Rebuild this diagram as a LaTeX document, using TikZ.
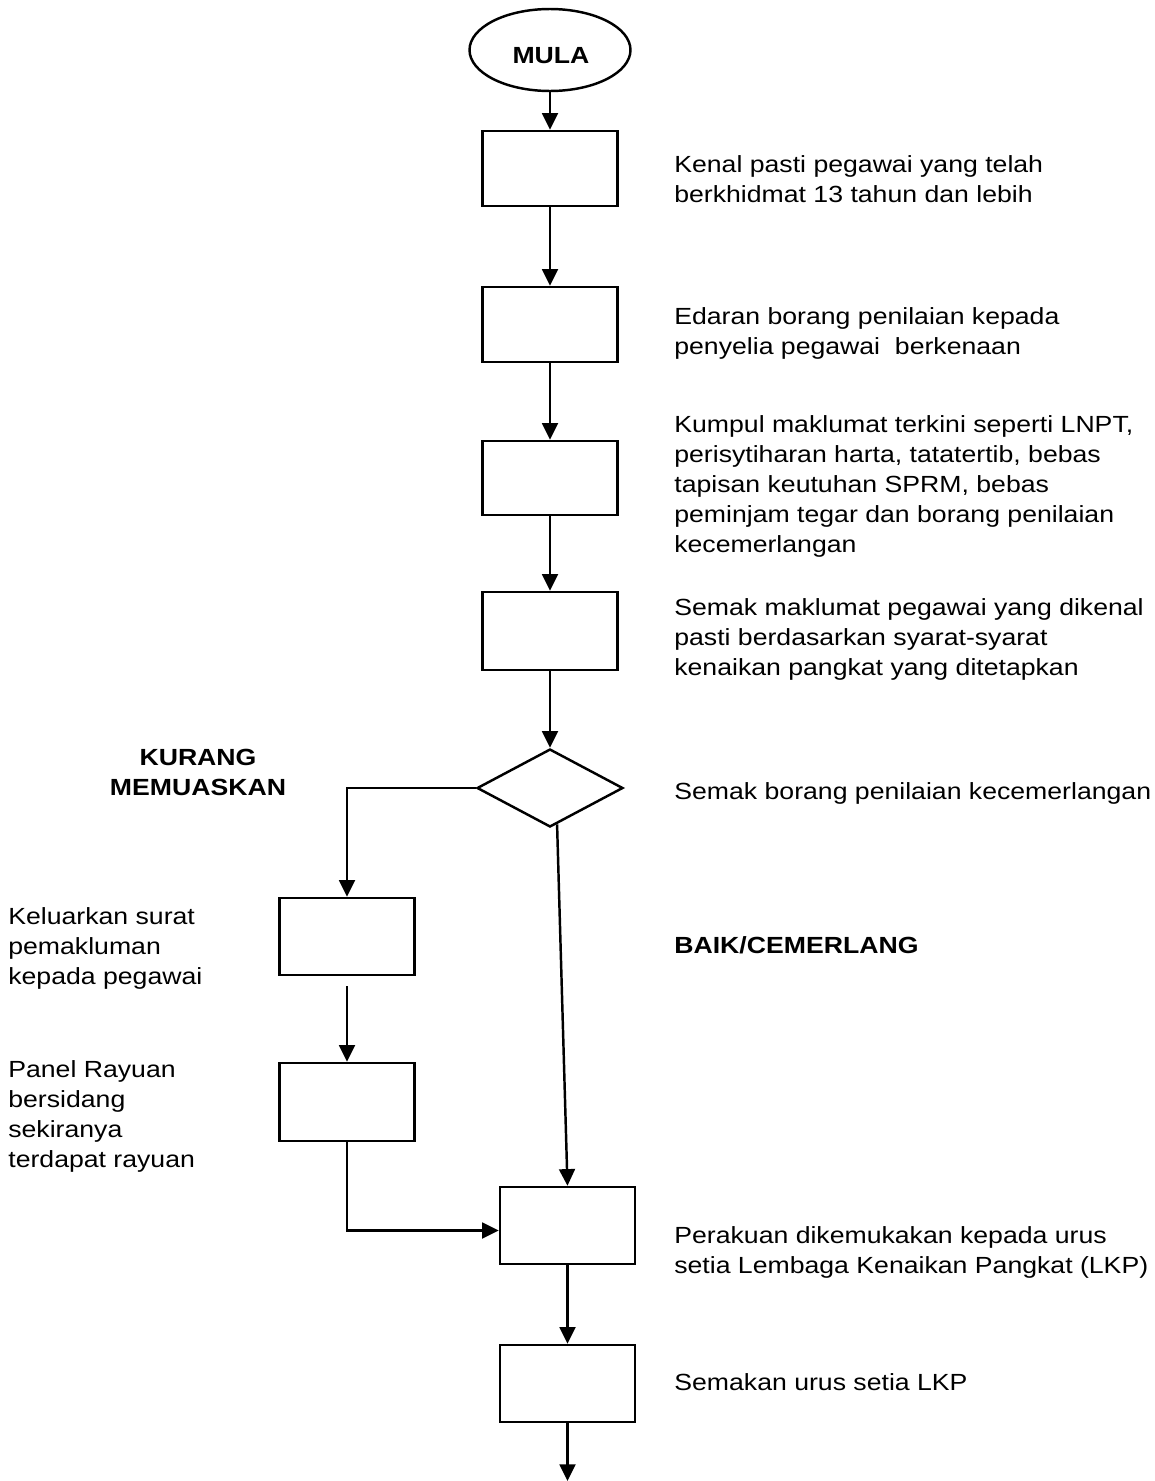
\documentclass[tikz,border=0pt]{standalone}
\usepackage{fontspec}
\setmainfont{Liberation Sans}[FakeStretch=1.14]
\usetikzlibrary{arrows.meta,shapes.geometric}
\begin{document}
\begin{tikzpicture}[x=0.02cm,y=-0.02cm,
  every node/.style={font=\fontsize{13.3pt}{17pt}\selectfont},
  procbox/.style={draw,line width=1.4pt,minimum width=2.7cm,minimum height=1.52cm,inner sep=0pt},
  txt/.style={anchor=base west,align=left,inner sep=0pt},
  boldtxt/.style={inner sep=0pt,font=\fontsize{13.3pt}{17pt}\selectfont\bfseries},
  conn/.style={line width=1.4pt,-{Triangle[length=9.5pt,width=9pt]}}]
\useasboundingbox (0,0) rectangle (1154,1481);
% start
\node[draw,ellipse,line width=1.4pt,minimum width=3.22cm,minimum height=1.64cm,inner sep=0pt] (mula) at (550,50) {};
\node[boldtxt,anchor=base] (mulatxt) at (551,63) {MULA};
% boxes
\node[procbox,minimum height=1.5cm] (b1) at (550,168.5) {};
\node[procbox,minimum height=1.5cm] (b2) at (550,324.5) {};
\node[procbox,minimum height=1.48cm] (b3) at (550,478) {};
\node[procbox,minimum height=1.56cm] (b4) at (550,631) {};
\node[draw,diamond,line width=1.4pt,minimum width=2.92cm,minimum height=1.56cm,inner sep=0pt] (dia) at (550,788) {};
\node[procbox,minimum height=1.54cm] (b5) at (347,936.5) {};
\node[procbox,minimum height=1.56cm] (b7) at (347,1102) {};
\node[procbox,minimum height=1.54cm] (b6) at (567.5,1225.5) {};
\node[procbox,minimum height=1.54cm] (b8) at (567.5,1383.5) {};
\coordinate (endpt) at (567.5,1481);
% texts (base = last line)
\node[txt] (t1) at (674,202) {Kenal pasti pegawai yang telah\\berkhidmat 13 tahun dan lebih};
\node[txt] (t2) at (674,354) {Edaran borang penilaian kepada\\penyelia pegawai\ \ berkenaan};
\node[txt] (t3) at (674,552) {Kumpul maklumat terkini seperti LNPT,\\perisytiharan harta, tatatertib, bebas\\tapisan keutuhan SPRM, bebas\\peminjam tegar dan borang penilaian\\kecemerlangan};
\node[txt] (t4) at (674,675) {Semak maklumat pegawai yang dikenal\\pasti berdasarkan syarat-syarat\\kenaikan pangkat yang ditetapkan};
\node[txt] (t5) at (674,799) {Semak borang penilaian kecemerlangan};
\node[boldtxt,anchor=base,align=center] (kurang) at (198,795) {KURANG\\MEMUASKAN};
\node[boldtxt,anchor=base west] (baik) at (674,953) {BAIK/CEMERLANG};
\node[txt] (t6) at (8,984) {Keluarkan surat\\pemakluman\\kepada pegawai};
\node[txt] (t7) at (8,1167) {Panel Rayuan\\bersidang\\sekiranya\\terdapat rayuan};
\node[txt] (t8) at (674,1273) {Perakuan dikemukakan kepada urus\\setia Lembaga Kenaikan Pangkat (LKP)};
\node[txt] (t9) at (674,1390) {Semakan urus setia LKP};
% connectors
\draw[conn] (mula.south) -- (b1.north);
\draw[conn] (b1.south) -- (b2.north);
\draw[conn] (b2.south) -- (b3.north);
\draw[conn] (b3.south) -- (b4.north);
\draw[conn] (b4.south) -- (dia.north);
\draw[conn] (dia.west) -| (b5.north);
\draw[conn] (dia.-79) -- (b6.north);
\draw[conn] ([yshift=-0.2cm]b5.south) -- (b7.north);
\draw[conn] (b7.south) |- ([yshift=-0.1cm]b6.west);
\draw[conn] (b6.south) -- (b8.north);
\draw[conn] (b8.south) -- (endpt);
\end{tikzpicture}
\end{document}
